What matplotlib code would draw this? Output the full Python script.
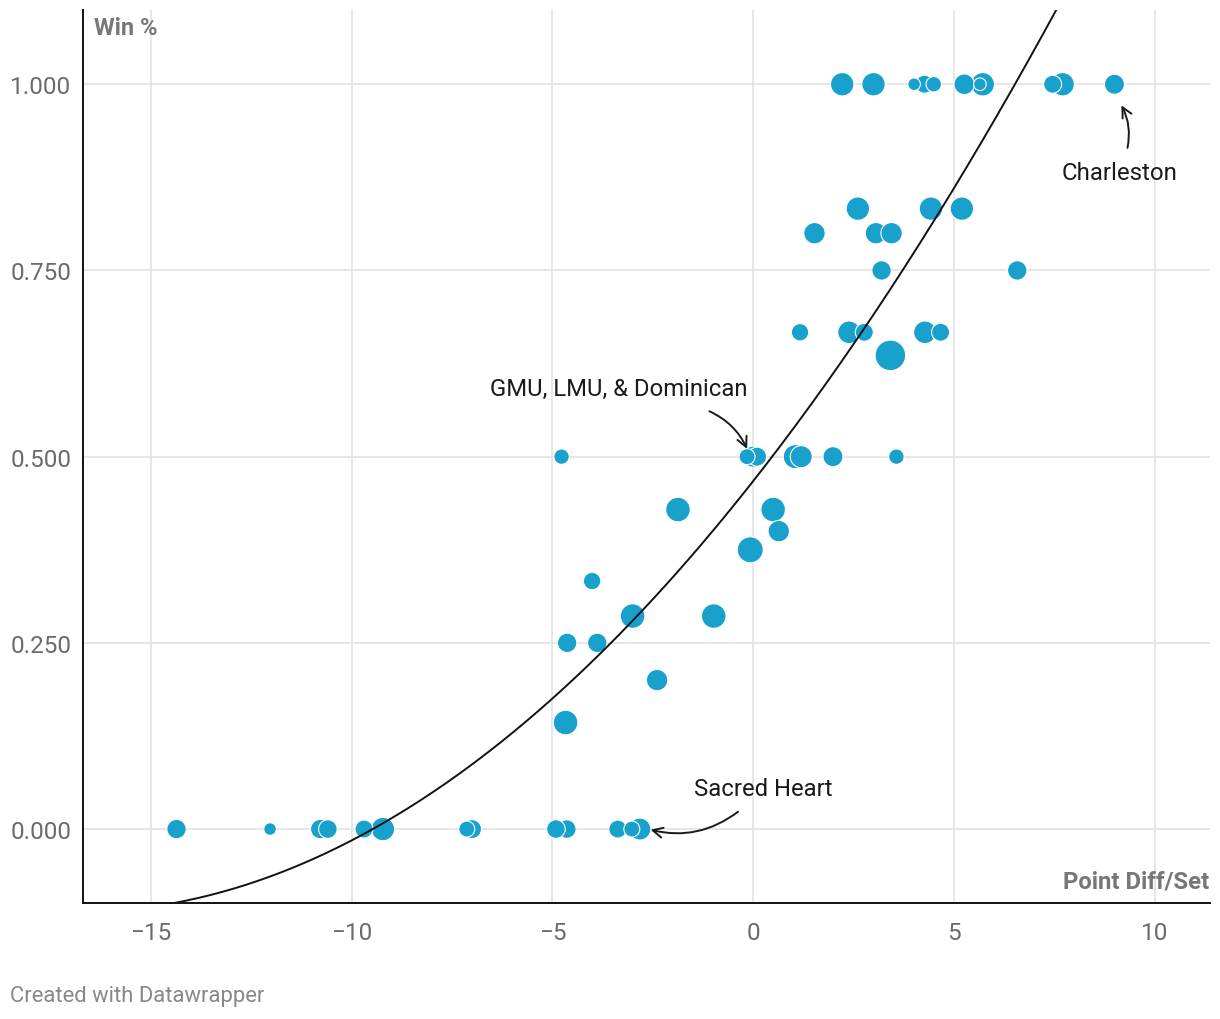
import numpy as np
import matplotlib
matplotlib.use("Agg")
import matplotlib.pyplot as plt

plt.rcParams['font.family'] = ['Roboto', 'DejaVu Sans']

# point differential per set, win %, marker size (estimated radius, px)
pt_diff = [2.22, 3.0, 4.01, 4.27, 4.5, 5.26, 5.72, 5.65, 7.46, 7.71, 9.0,
           2.61, 4.43, 5.2,
           1.53, 3.06, 3.45,
           3.2, 6.58,
           1.17, 2.39, 2.77, 4.28, 4.67,
           3.42,
           -4.77, -0.15, 0.0, 0.1, 1.05, 1.2, 1.99, 3.57,
           -1.87, 0.5,
           0.64,
           -0.07,
           -4.01,
           -3.0, -0.98,
           -4.63, -3.88,
           -2.39,
           -4.67,
           -14.36, -12.03, -10.78, -10.59, -9.69, -9.22, -7.13, -7.0,
           -4.91, -4.64, -3.37, -3.02, -2.82]
win_pct = [1, 1, 1, 1, 1, 1, 1, 1, 1, 1, 1,
           0.833, 0.833, 0.833,
           0.8, 0.8, 0.8,
           0.75, 0.75,
           0.667, 0.667, 0.667, 0.667, 0.667,
           0.636,
           0.5, 0.5, 0.5, 0.5, 0.5, 0.5, 0.5, 0.5,
           0.429, 0.429,
           0.4,
           0.375,
           0.333,
           0.286, 0.286,
           0.25, 0.25,
           0.2,
           0.143,
           0, 0, 0, 0, 0, 0, 0, 0,
           0, 0, 0, 0, 0]
radius = [11.7, 11.7, 6.3, 9, 7.7, 10.3, 11.7, 6.3, 9, 11.7, 10,
          11.7, 11.7, 11.7,
          10.7, 10.7, 10.7,
          9.7, 9.7,
          8.7, 11.3, 9, 11.3, 9,
          15.3,
          7.7, 8, 10.5, 9.5, 12, 11, 10, 7.7,
          12.3, 12.3,
          10.7,
          13,
          8.7,
          12.3, 12.3,
          9.7, 9.7,
          10.7,
          12.3,
          9.7, 6.3, 9.7, 9.3, 9, 11.7, 8, 9.5,
          9.3, 9.3, 9, 8, 11]

# quadratic trend line coefficients (c0 + c1*x + c2*x^2)
trend = [0.467, 0.0685, 0.002027]

x_ticks = [-15, -10, -5, 0, 5, 10]
y_ticks = [0, 0.25, 0.5, 0.75, 1.0]

fig = plt.figure(figsize=(12.2, 10.2), dpi=100)
ax = fig.add_axes([0.068, 0.1137, 0.9238, 0.8753])

x = np.array(pt_diff)
y = np.array(win_pct)
r = np.array(radius)
order = np.argsort(-r)  # big ones first, small on top
s = (2 * r * 0.72) ** 2
ax.scatter(x[order], y[order], s=s[order], color='#18a1cd',
           edgecolor='white', linewidth=0.8, zorder=3)

xs = np.linspace(-17, 12, 300)
ax.plot(xs, trend[0] + trend[1] * xs + trend[2] * xs ** 2,
        color='#111111', linewidth=1.4, zorder=4)

ax.set_xlim(-16.69, 11.38)
ax.set_ylim(-0.0993, 1.0994)
ax.set_xticks(x_ticks)
ax.set_xticklabels(['\u221215', '\u221210', '\u22125', '0', '5', '10'])
ax.set_yticks(y_ticks)
ax.set_yticklabels(['%.3f' % v for v in y_ticks])
ax.tick_params(length=0, labelsize=17.5, labelcolor='#6b6b6b')
ax.tick_params(axis='y', pad=8.5)
ax.tick_params(axis='x', pad=13)
ax.grid(True, color='#e3e3e3', linewidth=1.2, zorder=0)
ax.set_axisbelow(True)
for sp in ['top', 'right']:
    ax.spines[sp].set_visible(False)
for sp in ['left', 'bottom']:
    ax.spines[sp].set_color('#111111')
    ax.spines[sp].set_linewidth(1.4)

ax.text(0.01, 0.993, 'Win %', transform=ax.transAxes, ha='left', va='top',
        fontsize=17, fontweight='bold', color='#777777')
ax.text(0.999, 0.012, 'Point Diff/Set', transform=ax.transAxes, ha='right',
        va='bottom', fontsize=17.2, fontweight='bold', color='#777777')

# annotations
ax.text(9.14, 0.882, 'Charleston', ha='center', va='center', fontsize=17.3, color='#1a1a1a')
ax.annotate('', xy=(9.14, 0.975), xytext=(9.31, 0.911),
            arrowprops=dict(arrowstyle='->', color='#1a1a1a', lw=1.4,
                            connectionstyle='arc3,rad=0.2', mutation_scale=18))
ax.text(-3.34, 0.592, 'GMU, LMU, & Dominican', ha='center', va='center', fontsize=17.2, color='#1a1a1a')
ax.annotate('', xy=(-0.12, 0.507), xytext=(-1.15, 0.5625),
            arrowprops=dict(arrowstyle='->', color='#1a1a1a', lw=1.4,
                            connectionstyle='arc3,rad=-0.2', mutation_scale=18))
ax.text(0.25, 0.055, 'Sacred Heart', ha='center', va='center', fontsize=17.2, color='#1a1a1a')
ax.annotate('', xy=(-2.62, 0.0), xytext=(-0.32, 0.0255),
            arrowprops=dict(arrowstyle='->', color='#1a1a1a', lw=1.4,
                            connectionstyle='arc3,rad=-0.25', mutation_scale=18))

fig.text(10 / 1220, 1 - 997 / 1020, 'Created with Datawrapper', ha='left', va='center',
         fontsize=15.8, color='#888888')

fig.savefig('out.png', dpi=100)
